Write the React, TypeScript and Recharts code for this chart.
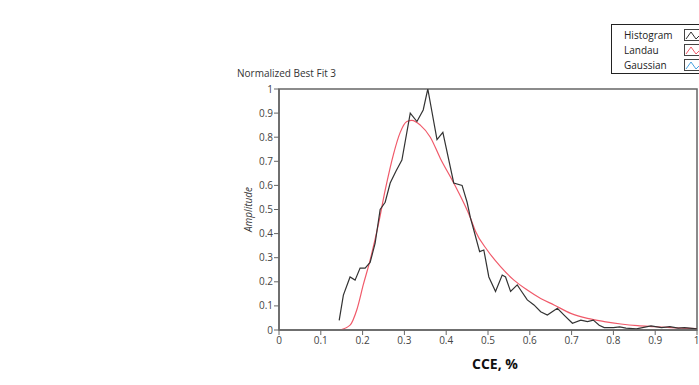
import React from "react";
import {
  LineChart,
  Line,
  XAxis,
  YAxis,
  ReferenceArea,
  Label,
} from "recharts";

// Normalized histogram of CCE with its Landau fit.
const histX = [
  0.144, 0.154, 0.17, 0.182, 0.194, 0.206, 0.218, 0.23, 0.242, 0.254, 0.266,
  0.28, 0.294, 0.314, 0.33, 0.345, 0.356, 0.378, 0.392, 0.418, 0.438, 0.45,
  0.458, 0.466, 0.48, 0.49, 0.502, 0.518, 0.534, 0.542, 0.554, 0.57, 0.578,
  0.594, 0.61, 0.626, 0.642, 0.666, 0.682, 0.702, 0.722, 0.738, 0.752, 0.766,
  0.778, 0.8, 0.815, 0.83, 0.855, 0.89, 0.915, 0.935, 0.955, 0.97, 1.0,
];
const histY = [
  0.04, 0.145, 0.22, 0.207, 0.257, 0.257, 0.28, 0.36, 0.5, 0.53, 0.61,
  0.66, 0.705, 0.9, 0.865, 0.913, 1.0, 0.79, 0.82, 0.61, 0.6, 0.53,
  0.465, 0.415, 0.325, 0.332, 0.22, 0.16, 0.228, 0.22, 0.16, 0.187, 0.166,
  0.125, 0.104, 0.076, 0.062, 0.09, 0.062, 0.028, 0.041, 0.035, 0.041, 0.02,
  0.01, 0.01, 0.013, 0.008, 0.005, 0.017, 0.01, 0.014, 0.008, 0.01, 0.005,
];

const landauX = [
  0.146, 0.17, 0.186, 0.202, 0.218, 0.238, 0.254, 0.274, 0.29, 0.306, 0.318,
  0.338, 0.362, 0.386, 0.418, 0.458, 0.47, 0.498, 0.53, 0.562, 0.594, 0.626,
  0.658, 0.698, 0.738, 0.778, 0.818, 0.858, 0.898, 0.938, 1.0,
];
const landauY = [
  0.0, 0.02, 0.083, 0.19, 0.29, 0.44, 0.58, 0.73, 0.82, 0.865, 0.87,
  0.85, 0.8, 0.712, 0.61, 0.465, 0.41, 0.332, 0.263, 0.207, 0.166, 0.131,
  0.104, 0.069, 0.048, 0.035, 0.025, 0.018, 0.014, 0.01, 0.006,
];

const ticks = [0, 0.1, 0.2, 0.3, 0.4, 0.5, 0.6, 0.7, 0.8, 0.9, 1];

const histData = histX.map((x, i) => ({ x, y: histY[i] }));
const landauData = landauX.map((x, i) => ({ x, y: landauY[i] }));

const FONT = "'Open Sans', 'Noto Sans', sans-serif";
const TICK = { fill: "#444", fontSize: 10, fontFamily: FONT };
const fmt = (v: number) => String(Math.round(v * 10) / 10);

const legendItems = [
  { name: "Histogram", color: "#333" },
  { name: "Landau", color: "#f05a6a" },
  { name: "Gaussian", color: "#4aa3df" },
];

function Chevron({ color }: { color: string }) {
  return (
    <svg width={16} height={12} style={{ display: "block" }}>
      <rect x={0.5} y={0.5} width={16} height={11} fill="#fff" stroke="#444" />
      <polyline points="2,10 7,3 12,10 15,7" fill="none" stroke={color} strokeWidth={1} />
    </svg>
  );
}

export default function App() {
  return (
    <div
      style={{
        position: "absolute",
        left: 0,
        top: 0,
        width: 699,
        height: 385,
        background: "#fff",
        fontFamily: FONT,
      }}
    >
      <LineChart
        width={699}
        height={385}
        margin={{ top: 89, right: 2, left: 239, bottom: 25 }}
      >
        <XAxis
          type="number"
          dataKey="x"
          domain={[0, 1]}
          ticks={ticks}
          tickFormatter={fmt}
          tick={TICK}
          tickSize={5}
          tickMargin={2}
          height={30}
          stroke="#666"
          axisLine={{ stroke: "#666", strokeWidth: 1.5 }}
          allowDataOverflow
        />
        <YAxis
          type="number"
          domain={[0, 1]}
          ticks={ticks}
          tickFormatter={fmt}
          tick={TICK}
          tickSize={5}
          tickMargin={1}
          width={40}
          stroke="#666"
          axisLine={{ stroke: "#666", strokeWidth: 1.5 }}
          allowDataOverflow
        >
          <Label
            value="Amplitude"
            angle={-90}
            position="insideLeft"
            offset={9}
            style={{ fill: "#333", fontSize: 10, fontFamily: FONT, fontStyle: "italic", textAnchor: "middle" }}
          />
        </YAxis>
        <ReferenceArea
          x1={0}
          x2={1}
          y1={0}
          y2={1}
          fill="none"
          stroke="#666"
          strokeWidth={1.5}
          ifOverflow="visible"
        />
        <Line
          data={landauData}
          dataKey="y"
          type="monotone"
          stroke="#f05a6a"
          strokeWidth={1.2}
          dot={false}
          isAnimationActive={false}
        />
        <Line
          data={histData}
          dataKey="y"
          type="linear"
          stroke="#333"
          strokeWidth={1.2}
          dot={false}
          isAnimationActive={false}
        />
      </LineChart>

      <div
        style={{
          position: "absolute",
          left: 237,
          top: 66,
          fontSize: 10,
          color: "#333",
          whiteSpace: "nowrap",
        }}
      >
        Normalized Best Fit 3
      </div>

      <div
        style={{
          position: "absolute",
          left: 440,
          width: 110,
          top: 354,
          textAlign: "center",
          fontSize: 14,
          fontWeight: 700,
          color: "#111",
        }}
      >
        CCE, %
      </div>

      <div
        style={{
          position: "absolute",
          left: 611,
          top: 24,
          width: 100,
          height: 50,
          border: "1px solid #222",
          background: "#fff",
          boxSizing: "border-box",
          padding: "2px 0 0 12px",
        }}
      >
        {legendItems.map((it) => (
          <div
            key={it.name}
            style={{
              display: "flex",
              alignItems: "center",
              height: 15,
              fontSize: 10,
              color: "#222",
            }}
          >
            <span style={{ width: 60 }}>{it.name}</span>
            <Chevron color={it.color} />
          </div>
        ))}
      </div>
    </div>
  );
}
